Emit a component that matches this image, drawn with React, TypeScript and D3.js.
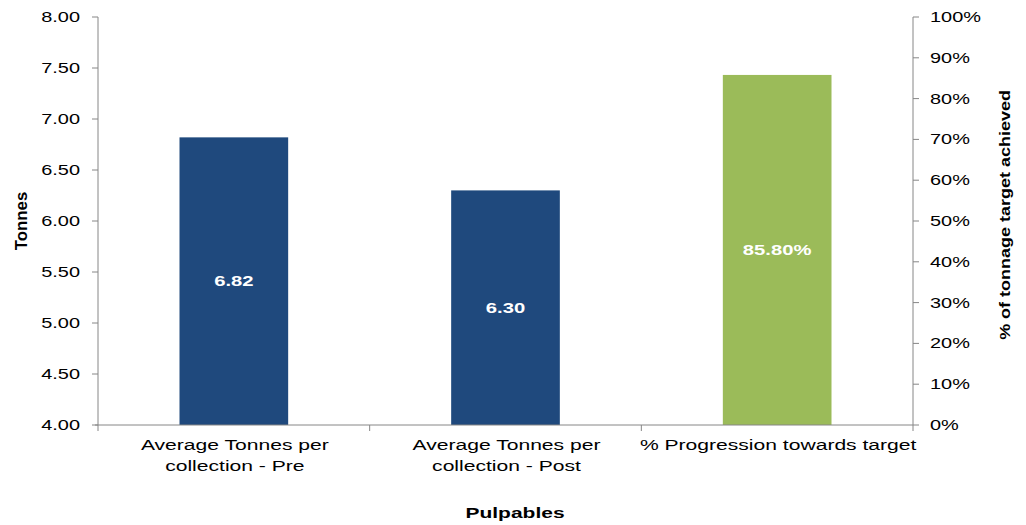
import React from "react";
import * as d3 from "d3";

// Category labels, split into the lines they wrap onto
const categoryLines: string[][] = [
  ["Average Tonnes per", "collection - Pre"],
  ["Average Tonnes per", "collection - Post"],
  ["% Progression towards target"],
];
const categories = categoryLines.map((l) => l.join(" "));

// Primary series (tonnes) for the first two categories
const tonnes = [6.82, 6.3];
// Secondary series (share of target) for the third category
const progress = [0.858];

const leftTicks = [4.0, 4.5, 5.0, 5.5, 6.0, 6.5, 7.0, 7.5, 8.0];
const rightTicks = [0, 0.1, 0.2, 0.3, 0.4, 0.5, 0.6, 0.7, 0.8, 0.9, 1.0];

const W = 1026;
const H = 525;
const plot = { left: 98, right: 913, top: 17, bottom: 425 };

const FONT = "'Liberation Sans', Arial, sans-serif";
const SX = 1.33; // horizontal widening of the chart's lettering
const AXIS = "#868686";
const BLUE = "#1F497D";
const GREEN = "#9BBB59";

function WideText(props: {
  x: number;
  y: number;
  anchor?: string;
  size?: number;
  weight?: string | number;
  fill?: string;
  rotate?: number;
  sx?: number;
  baseline?: string;
  children: React.ReactNode;
}) {
  const { x, y, anchor = "start", size = 15, weight = "normal", fill = "#000", rotate = 0, sx = SX, baseline } = props;
  return (
    <text
      transform={`translate(${x},${y}) rotate(${rotate}) scale(${sx},1)`}
      textAnchor={anchor}
      fontSize={size}
      fontWeight={weight}
      fill={fill}
      fontFamily={FONT}
      dominantBaseline={baseline}
    >
      {props.children}
    </text>
  );
}

export default function App() {
  const x = d3
    .scaleBand<string>()
    .domain(categories)
    .range([plot.left, plot.right])
    .paddingInner(0)
    .paddingOuter(0);
  const barW = x.bandwidth() * 0.4;
  const yL = d3.scaleLinear().domain([4, 8]).range([plot.bottom, plot.top]);
  const yR = d3.scaleLinear().domain([0, 1]).range([plot.bottom, plot.top]);
  const fmt2 = d3.format(".2f");
  const pctTick = d3.format(".0%");
  const pctLabel = d3.format(".2%");

  const bars = [
    ...tonnes.map((v, i) => ({ cat: categories[i], top: yL(v), label: fmt2(v), color: BLUE })),
    ...progress.map((v, i) => ({
      cat: categories[tonnes.length + i],
      top: yR(v),
      label: pctLabel(v),
      color: GREEN,
    })),
  ];

  const boundaries = [...categories.map((c) => x(c) as number), plot.right];

  return (
    <svg
      width={W}
      height={H}
      style={{ position: "absolute", left: 0, top: 0, background: "#fff" }}
    >
      <rect x={0} y={0} width={W} height={H} fill="#fff" />

      {/* bars */}
      {bars.map((b) => {
        const cx = (x(b.cat) as number) + x.bandwidth() / 2;
        return (
          <g key={b.cat}>
            <rect x={cx - barW / 2} y={b.top} width={barW} height={plot.bottom - b.top} fill={b.color} />
            <WideText
              x={cx}
              y={(b.top + plot.bottom) / 2}
              anchor="middle"
              weight="bold"
              fill="#fff"
              baseline="central"
              sx={1.35}
            >
              {b.label}
            </WideText>
          </g>
        );
      })}

      {/* left axis */}
      <line x1={plot.left} x2={plot.left} y1={plot.top} y2={plot.bottom} stroke={AXIS} />
      {leftTicks.map((t) => (
        <g key={"l" + t}>
          <line x1={plot.left - 6} x2={plot.left} y1={yL(t)} y2={yL(t)} stroke={AXIS} />
          <WideText x={plot.left - 18} y={yL(t)} anchor="end" baseline="central">
            {fmt2(t)}
          </WideText>
        </g>
      ))}

      {/* right axis */}
      <line x1={plot.right} x2={plot.right} y1={plot.top} y2={plot.bottom} stroke={AXIS} />
      {rightTicks.map((t) => (
        <g key={"r" + t}>
          <line x1={plot.right} x2={plot.right + 6} y1={yR(t)} y2={yR(t)} stroke={AXIS} />
          <WideText x={plot.right + 17} y={yR(t)} anchor="start" baseline="central">
            {pctTick(t)}
          </WideText>
        </g>
      ))}

      {/* category axis */}
      <line x1={plot.left - 3} x2={plot.right} y1={plot.bottom} y2={plot.bottom} stroke={AXIS} />
      {boundaries.map((bx, i) => (
        <line key={"b" + i} x1={bx} x2={bx} y1={plot.bottom} y2={plot.bottom + 6} stroke={AXIS} />
      ))}
      {categoryLines.map((lines, i) => {
        const cx = (x(categories[i]) as number) + x.bandwidth() / 2;
        return lines.map((ln, j) => (
          <WideText key={i + "-" + j} x={cx + 1} y={450 + j * 21} anchor="middle" size={15.5} sx={1.36}>
            {ln}
          </WideText>
        ));
      })}

      {/* axis titles */}
      <WideText x={515} y={518} anchor="middle" weight="bold" sx={1.4}>
        Pulpables
      </WideText>
      <WideText x={27} y={221} anchor="middle" weight="bold" rotate={-90} sx={1.05} size={16}>
        Tonnes
      </WideText>
      <WideText x={1010} y={215} anchor="middle" weight="bold" rotate={-90} sx={1.2} size={15}>
        % of tonnage target achieved
      </WideText>
    </svg>
  );
}
